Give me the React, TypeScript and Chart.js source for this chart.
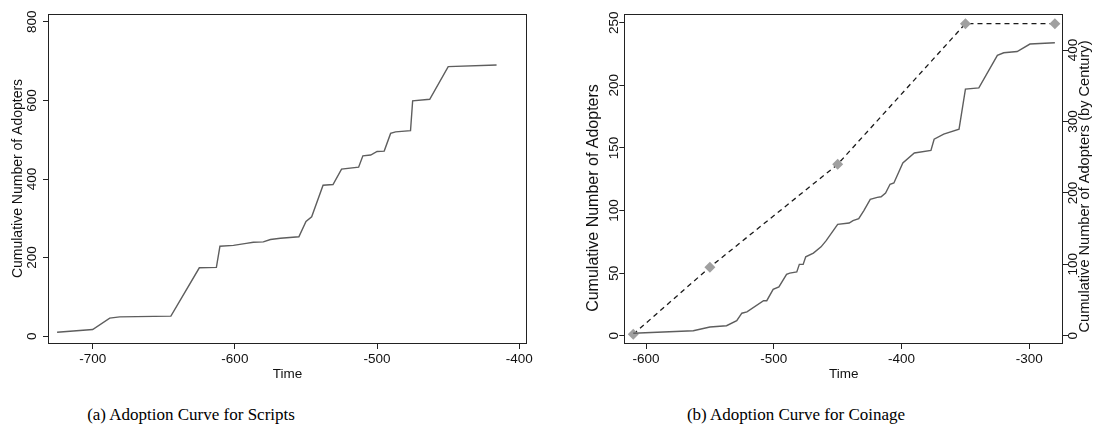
import React, { useEffect, useRef } from "react";
import { Chart, registerables } from "chart.js";

Chart.register(...registerables);

// ---------- data ----------
const scriptTime = [-725, -700, -688, -681, -645, -625, -613, -610.5, -601, -592, -587, -580, -575, -568, -555, -550, -546, -538, -531, -525, -513, -510, -504.5, -500, -495, -490.5, -487, -476.5, -475, -463, -450, -416];
const scriptAdopters = [10, 17, 46, 49, 51, 174, 175, 229, 231, 236, 239, 240, 246, 249, 253, 292, 304, 384, 386, 425, 430, 459, 461, 470, 471, 516, 520, 523, 599, 603, 686, 690];

const coinTime = [-610, -563, -550, -537, -529, -525, -521, -508, -505.5, -500.5, -496, -490, -487.5, -482, -480, -477, -475, -469, -463, -459, -450, -441, -438, -433.5, -429.5, -424.5, -419, -416, -412.5, -409, -406, -399, -390, -377, -374.5, -367, -355, -350, -339.5, -325, -320, -309.5, -299.5, -280];
const coinAdopters = [2, 4, 7, 8, 12, 18, 19, 28, 28, 37, 39, 49, 50, 51, 57, 57, 63, 66, 71, 76, 89, 90, 92, 93.5, 100, 109, 110.5, 111, 114, 121, 122, 138, 146, 148, 157, 161, 165, 197, 198, 224, 226, 227, 233, 234];

const centuryTime = [-610, -550, -450, -350, -280];
const centuryAdopters = [2, 96, 240, 437, 437];

const scriptXTicks = [-700, -600, -500, -400];
const scriptYTicks = [0, 200, 400, 600, 800];
const coinXTicks = [-600, -500, -400, -300];
const coinYTicks = [0, 50, 100, 150, 200, 250];
const centuryYTicks = [0, 100, 200, 300, 400];

const xTitle = "Time";
const yTitle = "Cumulative Number of Adopters";
const y1Title = "Cumulative Number of Adopters (by Century)";
const captionA = "(a) Adoption Curve for Scripts";
const captionB = "(b) Adoption Curve for Coinage";

// ---------- style ----------
const SANS = "'Liberation Sans', Arial, Helvetica, sans-serif";
const tickFont = { family: SANS, size: 13.5 };
const INK = "#111";

type VTitle = { text: string; x: number; y: number; size: number };

function boxPlugin(titles: VTitle[]) {
  return {
    id: "boxAndTitles",
    afterDraw(chart: any) {
      const { ctx, chartArea: a } = chart;
      ctx.save();
      ctx.strokeStyle = "#222";
      ctx.lineWidth = 1;
      const l = Math.round(a.left) + 0.5;
      const t = Math.round(a.top) + 0.5;
      const r = Math.round(a.right) - 0.5;
      const b = Math.round(a.bottom) - 0.5;
      ctx.strokeRect(l, t, r - l, b - t);
      ctx.fillStyle = INK;
      ctx.textAlign = "center";
      ctx.textBaseline = "middle";
      for (const ti of titles) {
        ctx.save();
        ctx.translate(ti.x, ti.y);
        ctx.rotate(-Math.PI / 2);
        ctx.font = `${ti.size}px ${SANS}`;
        ctx.fillText(ti.text, 0, 0);
        ctx.restore();
      }
      ctx.restore();
    },
  };
}

const setTicks = (vals: number[]) => (s: any) => {
  s.ticks = vals.map((v) => ({ value: v }));
};

const gridOpts = {
  display: true,
  drawOnChartArea: false,
  drawTicks: true,
  tickLength: 5,
  color: "#222",
  lineWidth: 1,
};

function xScale(min: number, max: number, ticks: number[]) {
  return {
    type: "linear" as const,
    min,
    max,
    afterBuildTicks: setTicks(ticks),
    afterFit: (s: any) => {
      s.height = 56;
    },
    grid: gridOpts,
    border: { display: false },
    ticks: { font: tickFont, color: INK, padding: 2, maxRotation: 0, autoSkip: false },
    title: {
      display: true,
      text: xTitle,
      font: tickFont,
      color: INK,
      padding: { top: 0, bottom: 18 },
    },
  };
}

function yScale(min: number, max: number, ticks: number[], width: number, pad: number, position: "left" | "right") {
  return {
    type: "linear" as const,
    position,
    min,
    max,
    afterBuildTicks: setTicks(ticks),
    afterFit: (s: any) => {
      s.width = width;
    },
    grid: gridOpts,
    border: { display: false },
    ticks: {
      font: tickFont,
      color: INK,
      minRotation: 90,
      maxRotation: 90,
      crossAlign: "center" as const,
      padding: pad,
      autoSkip: false,
    },
  };
}

function ScriptsChart() {
  const ref = useRef<HTMLCanvasElement>(null);
  useEffect(() => {
    const chart = new Chart(ref.current!, {
      type: "line",
      data: {
        datasets: [
          {
            data: scriptTime.map((t, i) => ({ x: t, y: scriptAdopters[i] })),
            borderColor: "#5e5e5e",
            borderWidth: 1.4,
            pointRadius: 0,
            tension: 0,
          },
        ],
      },
      options: {
        animation: false,
        responsive: false,
        maintainAspectRatio: false,
        layout: { padding: { top: 14, right: 23, left: 0, bottom: 0 } },
        plugins: { legend: { display: false }, tooltip: { enabled: false } },
        scales: {
          x: xScale(-731.4, -394.6, scriptXTicks),
          y: yScale(-20, 820, scriptYTicks, 48, -0.75, "left"),
        },
      },
      plugins: [boxPlugin([{ text: yTitle, x: 18.5, y: 178.5, size: 14 }])],
    } as any);
    return () => chart.destroy();
  }, []);
  return <canvas ref={ref} width={550} height={400} style={{ width: 550, height: 400, display: "block" }} />;
}

function CoinageChart() {
  const ref = useRef<HTMLCanvasElement>(null);
  useEffect(() => {
    const chart = new Chart(ref.current!, {
      type: "line",
      data: {
        datasets: [
          {
            data: coinTime.map((t, i) => ({ x: t, y: coinAdopters[i] })),
            borderColor: "#5e5e5e",
            borderWidth: 1.4,
            pointRadius: 0,
            tension: 0,
            yAxisID: "y",
          },
          {
            data: centuryTime.map((t, i) => ({ x: t, y: centuryAdopters[i] })),
            borderColor: "#1a1a1a",
            borderWidth: 1.3,
            borderDash: [5, 4],
            pointStyle: "rectRot",
            pointRadius: 5.5,
            pointBackgroundColor: "#a0a0a0",
            pointBorderWidth: 0,
            pointBorderColor: "#a0a0a0",
            tension: 0,
            yAxisID: "y1",
          },
        ],
      },
      options: {
        animation: false,
        responsive: false,
        maintainAspectRatio: false,
        layout: { padding: { top: 14, right: 0, left: 0, bottom: 0 } },
        plugins: { legend: { display: false }, tooltip: { enabled: false } },
        scales: {
          x: xScale(-617, -273.4, coinXTicks),
          y: yScale(-6.6, 257, coinYTicks, 74.3, -6, "left"),
          y1: yScale(-11.6, 450.5, centuryYTicks, 35.7, -6.5, "right"),
        },
      },
      plugins: [
        boxPlugin([
          { text: yTitle, x: 44, y: 198, size: 16 },
          { text: y1Title, x: 535, y: 186.5, size: 14.6 },
        ]),
      ],
    } as any);
    return () => chart.destroy();
  }, []);
  return <canvas ref={ref} width={549} height={400} style={{ width: 549, height: 400, display: "block" }} />;
}

const captionStyle: React.CSSProperties = {
  position: "absolute",
  top: 404,
  width: 400,
  textAlign: "center",
  fontFamily: "'Liberation Serif', 'Times New Roman', serif",
  fontSize: 17,
  lineHeight: "22px",
  color: "#000",
  whiteSpace: "nowrap",
};

export default function App() {
  return (
    <div
      style={{
        position: "absolute",
        left: 0,
        top: 0,
        width: 1099,
        height: 443,
        background: "#fff",
        overflow: "hidden",
      }}
    >
      <div style={{ position: "absolute", left: 0, top: 0 }}>
        <ScriptsChart />
      </div>
      <div style={{ position: "absolute", left: 550, top: 0 }}>
        <CoinageChart />
      </div>
      <div style={{ ...captionStyle, left: 191 - 200 }}>{captionA}</div>
      <div style={{ ...captionStyle, left: 796 - 200 }}>{captionB}</div>
    </div>
  );
}
